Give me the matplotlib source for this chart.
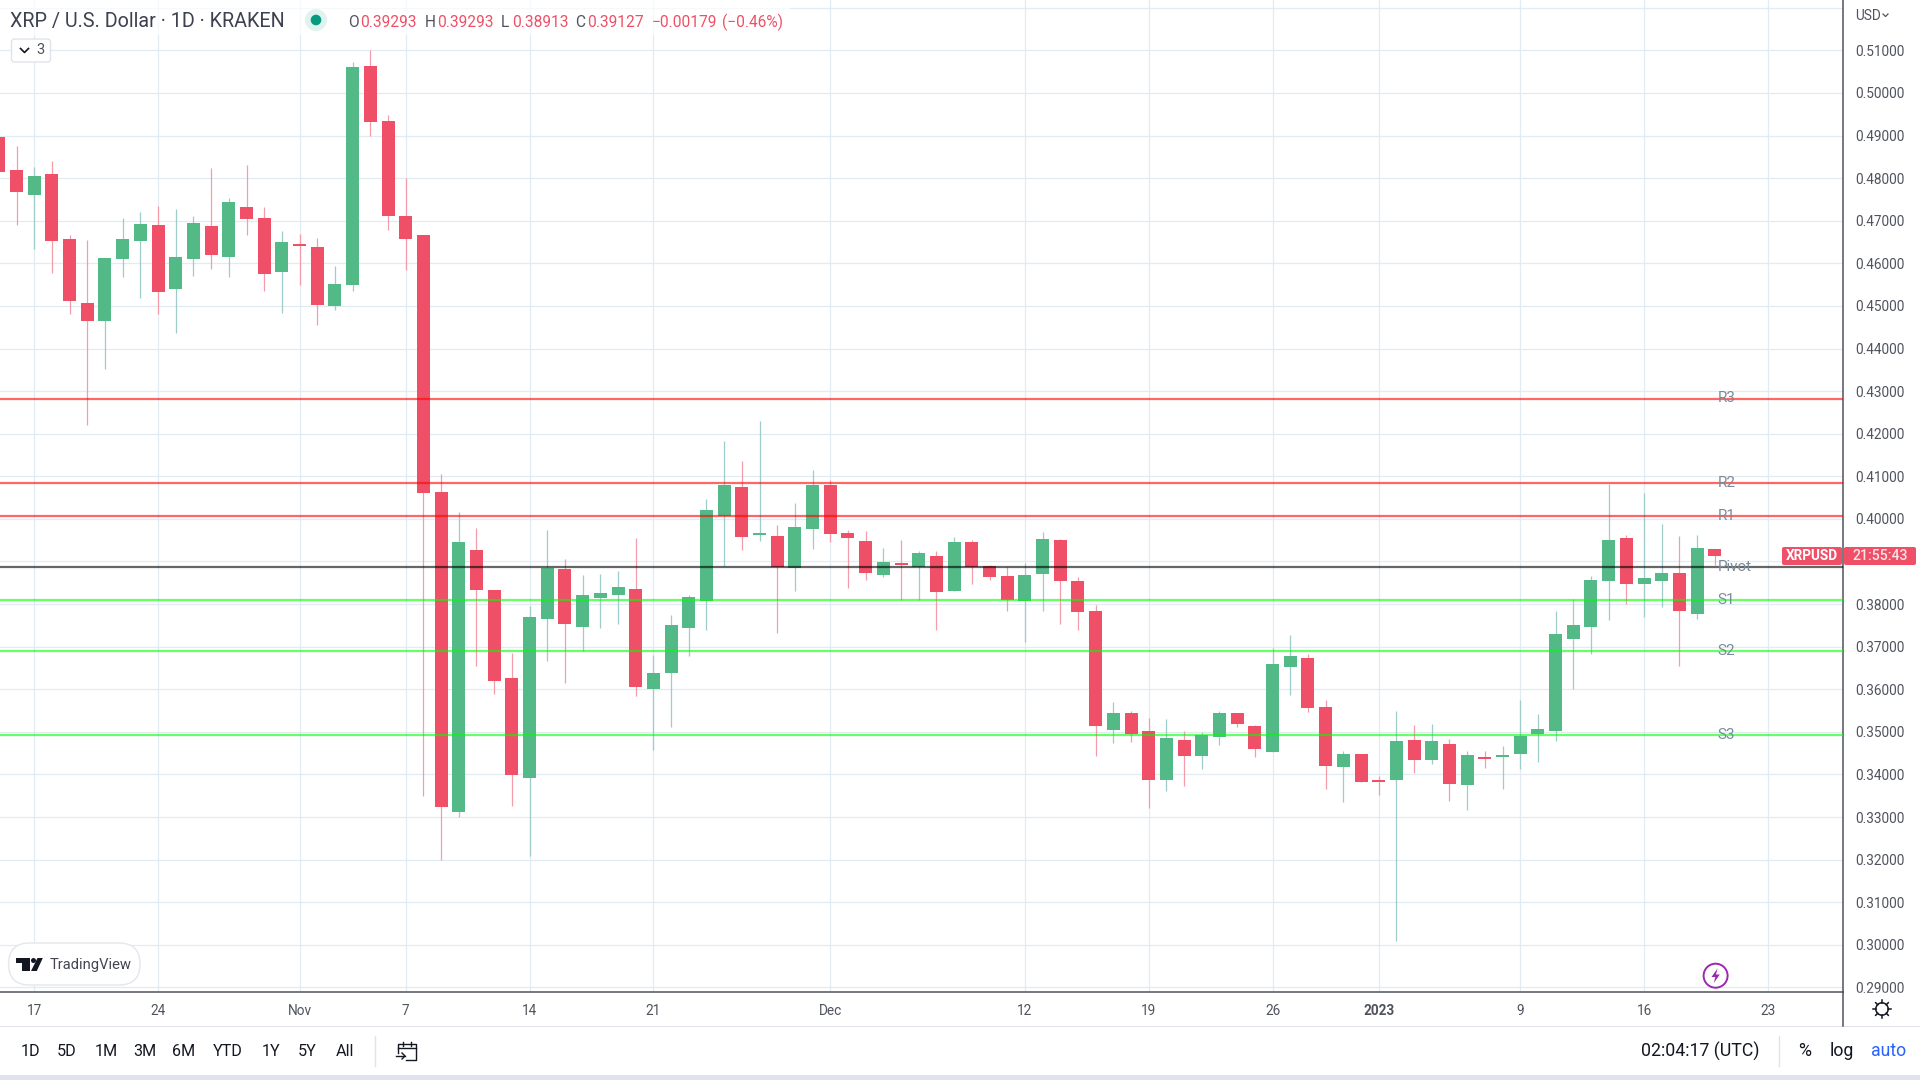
import matplotlib
matplotlib.use("Agg")
import matplotlib.pyplot as plt
from matplotlib.patches import Rectangle, Circle, FancyBboxPatch, Polygon

plt.rcParams['font.family'] = ['Roboto', 'DejaVu Sans']

# Daily candles; the day number counts from 17 Oct 2022 (day 0)
first_day = -2
opens = [.48966,.48191,.47604,.48097,.46571,.45069,.44646,.46102,.46524,.46900,
         .45397,.46102,.46876,.46149,.47322,.47064,.45797,.46454,.46383,.44998,
         .45491,.50632,.49341,.47111,.46665,.40631,.33120,.39270,.38331,.36265,
         .33918,.37650,.38824,.37462,.38143,.38214,.38354,.36007,.36383,.37439,
         .38073,.40068,.40749,.39622,.39598,.38847,.39763,.40796,.39669,.39481,
         .38683,.38965,.38871,.39129,.38307,.39458,.38894,.38659,.38073,.38707,
         .39505,.38542,.37838,.35045,.35444,.35021,.33871,.34810,.34434,.34880,
         .35444,.35138,.34528,.36524,.36735,.35585,.34176,.34482,.33871,.33871,
         .34810,.34341,.34716,.33754,.34411,.34411,.34482,.34951,.35022,.37181,
         .37463,.38543,.39552,.38472,.38543,.38730,.37768,.39293]
highs = [.48966,.48754,.48261,.48402,.46665,.46548,.46125,.47064,.47205,.47346,
         .47275,.47111,.48238,.47534,.48308,.47322,.46759,.46689,.46595,.45937,
         .50726,.51008,.49482,.48003,.46665,.41054,.40162,.39786,.38331,.36852,
         .37955,.39739,.39059,.38683,.38707,.38777,.39552,.36805,.37744,.38214,
         .40467,.41833,.41359,.42295,.39857,.40373,.41148,.40913,.39739,.39716,
         .39317,.39505,.39246,.39246,.39575,.39505,.38918,.38871,.38965,.39692,
         .39528,.38636,.37979,.35702,.35491,.35326,.35303,.35021,.34998,.35491,
         .35444,.35162,.36969,.37275,.36829,.35749,.34552,.34482,.33965,.35491,
         .35162,.35186,.34834,.34552,.34552,.34669,.35749,.35421,.37838,.38120,
         .38660,.40820,.39622,.40608,.39881,.39599,.39622,.39293]
lows = [.48144,.46900,.46336,.45773,.44811,.42213,.43520,.45679,.45186,.44811,
        .44365,.45703,.45867,.45679,.46665,.45351,.44834,.45491,.44552,.44905,
        .45351,.48989,.46782,.45844,.33495,.31993,.33000,.36547,.35890,.33256,
        .32087,.36664,.36148,.36899,.37439,.37533,.35843,.34575,.35115,.36782,
        .37392,.38894,.39270,.39481,.37321,.38307,.39293,.39458,.38378,.38566,
        .38636,.38096,.38096,.37392,.38307,.38472,.38566,.37838,.37110,.37838,
        .37533,.37392,.34434,.34739,.34763,.33214,.33612,.33730,.34129,.34692,
        .35115,.34411,.34528,.35867,.35468,.33660,.33355,.33824,.33519,.30092,
        .34036,.34247,.33378,.33167,.34153,.33660,.34130,.34294,.34787,.36007,
        .36829,.37627,.38003,.37698,.37932,.36547,.37651,.38913]
closes = [.48144,.47674,.48050,.46524,.45116,.44646,.46125,.46571,.46923,.45327,
          .46149,.46947,.46196,.47440,.47041,.45750,.46501,.46407,.45022,.45515,
          .50609,.49318,.47111,.46571,.40608,.33237,.39458,.38331,.36195,.33989,
          .37697,.38847,.37533,.38214,.38260,.38401,.36054,.36383,.37509,.38167,
          .40209,.40796,.39575,.39669,.38871,.39810,.40796,.39645,.39552,.38730,
          .38988,.38918,.39199,.38284,.39458,.38871,.38636,.38096,.38683,.39528,
          .38542,.37814,.35138,.35444,.34951,.33871,.34857,.34434,.34927,.35444,
          .35185,.34599,.36594,.36782,.35561,.34200,.34482,.33824,.33824,.34787,
          .34341,.34787,.33777,.34458,.34364,.34458,.34904,.35068,.37298,.37510,
          .38566,.39505,.38472,.38613,.38730,.37838,.39317,.39127]

level_names = ['R3', 'R2', 'R1', 'Pivot', 'S1', 'S2', 'S3']
level_values = [.42822, .40843, .40068, .38871, .38096, .36899, .34927]
level_colors = ['#ff0000', '#ff0000', '#ff0000', '#000000', '#00ff00', '#00ff00', '#00ff00']

price_ticks = [.29, .30, .31, .32, .33, .34, .35, .36, .37, .38, .39, .40,
               .41, .42, .43, .44, .45, .46, .47, .48, .49, .50, .51, .52]
hidden_price_labels = [.39, .52]
date_ticks = [0, 7, 15, 21, 28, 35, 45, 56, 63, 70, 76, 84, 91, 98]
date_labels = ['17', '24', 'Nov', '7', '14', '21', 'Dec', '12', '19', '26', '2023', '9', '16', '23']
range_buttons = ['1D', '5D', '1M', '3M', '6M', 'YTD', '1Y', '5Y', 'All']
button_x = [30.6, 67, 106, 145, 184, 228, 271, 307, 345]

RED, GREEN = '#ef5067', '#53b987'
RED_W, GREEN_W = '#f59cab', '#9fcbca'
GRID = '#e1ebf2'
LABEL = '#50535e'

W, H = 1920, 1080
fig = plt.figure(figsize=(W / 100, H / 100), dpi=100, facecolor='white')
ax = fig.add_axes([0, 88 / H, 1843 / W, 992 / H], facecolor='white')
ax.set_xlim(-1.935, 102.245)
ax.set_ylim(0.28894, 0.52181)

days = [first_day + i for i in range(len(opens))]
is_up = [c >= o for o, c in zip(opens, closes)]
ax.vlines(days, lows, highs, colors=[GREEN_W if u else RED_W for u in is_up],
          linewidth=0.9, zorder=3)
ax.bar(days, [abs(c - o) for o, c in zip(opens, closes)],
       bottom=[min(o, c) for o, c in zip(opens, closes)], width=0.735,
       color=[GREEN if u else RED for u in is_up], linewidth=0, zorder=4)

for name, val, col in zip(level_names, level_values, level_colors):
    ax.axhline(val, color=col, alpha=0.6, linewidth=1.6, zorder=5)
    ax.annotate(name, xy=(95.15, val), xytext=(0, 0.3), textcoords='offset points',
                ha='left', va='center', fontsize=11, color='#7b8a9a', zorder=6)

ax.set_axisbelow(True)
ax.grid(True, color=GRID, linewidth=0.9)
ax.yaxis.tick_right()
ax.set_yticks(price_ticks)
ax.set_yticklabels(['' if p in hidden_price_labels else '%.5f' % p for p in price_ticks])
ax.set_xticks(date_ticks)
ax.set_xticklabels(date_labels)
ax.tick_params(axis='y', length=0, pad=8.6, labelsize=9.8, labelcolor=LABEL)
ax.tick_params(axis='x', length=0, pad=8.4, labelsize=9.8, labelcolor=LABEL)
for lab in ax.get_xticklabels():
    if lab.get_text() == '2023':
        lab.set_fontweight('bold')
for side in ('top', 'left'):
    ax.spines[side].set_visible(False)
for side in ('right', 'bottom'):
    ax.spines[side].set_color('#50535e')
    ax.spines[side].set_linewidth(1.1)

# Interface furniture, in pixel coordinates
ui = fig.add_axes([0, 0, 1, 1], zorder=10)
ui.set_xlim(0, W)
ui.set_ylim(H, 0)
ui.axis('off')


def label(x, y, s, ha='left', size=10, color='#131722', **kw):
    ui.text(x, y, s, ha=ha, va='center', fontsize=size, color=color, **kw)


ui.add_patch(Rectangle((1844, 992.8), 76, 34, color='white', zorder=1))
ui.plot([1843.3, 1843.3], [992, 1026], color='#50535e', lw=1.1, zorder=2)
ui.add_patch(Rectangle((0, 1026), W, 1.3, color='#e0e3eb', lw=0))
ui.add_patch(Rectangle((0, 1075), W, 5, color='#e0e3eb', lw=0))

# header
ui.add_patch(Rectangle((0, 0), 790, 35, color='white', alpha=0.7, lw=0))
label(10, 21, 'XRP / U.S. Dollar · 1D · KRAKEN', size=14.2, color='#3d4150')
ui.add_patch(Circle((316, 20), 11, color='#e0f3ef', lw=0))
ui.add_patch(Circle((316, 20), 5.3, color='#089981', lw=0))
for x, s in [(347.7, 'O'), (425, 'H'), (501, 'L'), (575, 'C')]:
    label(x, 22.5, s, size=11.2, color='#50535e')
for x, s in [(360, '0.39293'), (437, '0.39293'), (511.7, '0.38913'), (586.7, '0.39127'),
             (651.7, '−0.00179'), (722, '(−0.46%)')]:
    label(x, 22.5, s, size=11.2, color=RED)

# collapsed-indicator button
ui.add_patch(FancyBboxPatch((11.5, 39), 39, 23, boxstyle='round,pad=0,rounding_size=3',
                            fc='white', ec='#e0e3eb', lw=1))
ui.plot([20.5, 24.5, 28.5], [48.5, 52.5, 48.5], color='#131722', lw=1.2)
label(36, 50, '3', size=10.5, color=LABEL)

# currency
label(1855, 16, 'USD', size=9.8, color=LABEL)
ui.plot([1883, 1885.5, 1888], [14, 16.5, 14], color=LABEL, lw=0.9)

# last-price tags
ui.add_patch(FancyBboxPatch((1783, 548), 58, 16, boxstyle='round,pad=1,rounding_size=2', fc=RED, ec=RED, lw=0))
ui.add_patch(FancyBboxPatch((1845, 548), 70, 16, boxstyle='round,pad=1,rounding_size=2', fc=RED, ec=RED, lw=0))
label(1811.5, 556, 'XRPUSD', ha='center', size=9.8, color='white', fontweight='bold')
label(1880.5, 556, '21:55:43', ha='center', size=10.2, color='#fbe3e7', fontweight='medium')

# TradingView badge
ui.add_patch(FancyBboxPatch((8.6, 943), 131.4, 42, boxstyle='round,pad=0,rounding_size=21',
                            fc='white', ec='#e6e8ee', lw=1.1))
ui.add_patch(Polygon([(16, 958), (29.5, 958), (29.5, 971), (22, 971), (22, 963), (16, 963)],
                     fc='#131722', lw=0))
ui.add_patch(Circle((33.5, 960.5), 2.5, fc='#131722', lw=0))
ui.add_patch(Polygon([(37.5, 958), (42.8, 958), (36.8, 971), (31, 971)], fc='#131722', lw=0))
label(50, 965.5, 'TradingView', size=10.6, color='#434651')

# lightning badge
ui.add_patch(Circle((1715.6, 975.7), 12, fc='white', ec='#9c27b0', lw=1.4))
ui.add_patch(Polygon([(1717.5, 968.5), (1711.5, 977), (1715.3, 977), (1713.8, 983),
                      (1719.8, 974.5), (1716, 974.5)], fc='#9c27b0', lw=0))

# settings gear
ui.add_patch(Circle((1882, 1009), 6.2, fc='none', ec='#131722', lw=1.1))
for dx, dy in [(0, -1), (0, 1), (1, 0), (-1, 0), (.7, .7), (-.7, .7), (.7, -.7), (-.7, -.7)]:
    ui.plot([1882 + 6 * dx, 1882 + 9 * dx], [1009 + 6 * dy, 1009 + 9 * dy], color='#131722', lw=1.1)

# bottom toolbar
for x, s in zip(button_x, range_buttons):
    label(x, 1051, s, ha='center', size=11.6)
ui.plot([375, 375], [1036, 1066], color='#e0e3eb', lw=1)
# go-to-date icon
ui.plot([398, 398, 416, 416, 406], [1053, 1044, 1044, 1060, 1060], color='#131722', lw=1.0)
ui.plot([398, 416], [1048, 1048], color='#131722', lw=1.0)
ui.plot([403, 403], [1041.5, 1046], color='#131722', lw=1.0)
ui.plot([411, 411], [1041.5, 1046], color='#131722', lw=1.0)
ui.plot([396, 405], [1056, 1056], color='#131722', lw=1.0)
ui.plot([402, 405, 402], [1053, 1056, 1059], color='#131722', lw=1.0)
label(1700, 1051, '02:04:17 (UTC)', ha='center', size=12.8)
ui.plot([1779, 1779], [1036, 1066], color='#e0e3eb', lw=1)
label(1804.5, 1051, '%', ha='center', size=12.8)
label(1842, 1051, 'log', ha='center', size=12.8)
label(1889, 1051, 'auto', ha='center', size=12.8, color='#2962ff')

fig.savefig('out.png', dpi=100, facecolor='white')
